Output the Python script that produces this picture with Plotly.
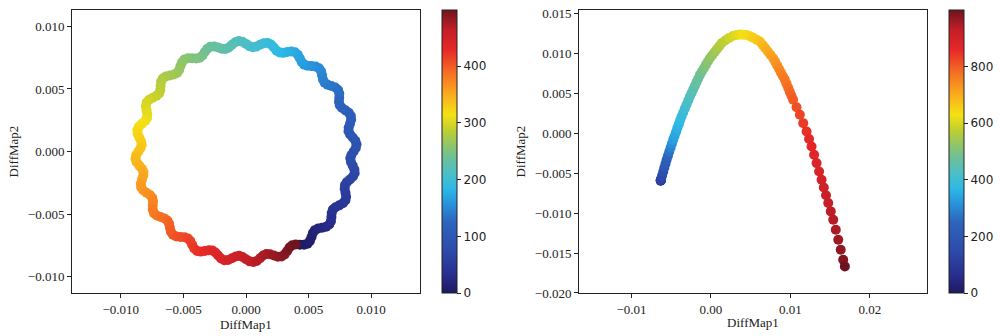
import plotly.graph_objects as go

# ---------------- Left panel: wavy ring (coloured by sample index, 0..499) ----------------
ring_x = [
    0.004300, 0.004635, 0.004917, 0.005112, 0.005235, 0.005343, 0.005506, 0.005758,
    0.006081, 0.006406, 0.006654, 0.006785, 0.006823, 0.006847, 0.006943, 0.007153,
    0.007448, 0.007741, 0.007937, 0.007995, 0.007945, 0.007883, 0.007907, 0.008060,
    0.008307, 0.008548, 0.008680, 0.008660, 0.008526, 0.008382, 0.008332, 0.008419,
    0.008600, 0.008772, 0.008831, 0.008735, 0.008526, 0.008310, 0.008190, 0.008203,
    0.008307, 0.008399, 0.008380, 0.008214, 0.007945, 0.007672, 0.007489, 0.007428,
    0.007448, 0.007453, 0.007359, 0.007134, 0.006823, 0.006511, 0.006278, 0.006148,
    0.006081, 0.006000, 0.005835, 0.005568, 0.005235, 0.004906, 0.004639, 0.004448,
    0.004300, 0.004137, 0.003914, 0.003622, 0.003291, 0.002967, 0.002684, 0.002445,
    0.002226, 0.001993, 0.001727, 0.001430, 0.001123, 0.000826, 0.000546, 0.000276,
    0.0, -0.000287, -0.000579, -0.000860, -0.001123, -0.001372, -0.001629, -0.001913,
    -0.002226, -0.002548, -0.002845, -0.003092, -0.003291, -0.003476, -0.003693, -0.003971,
    -0.004300, -0.004635, -0.004917, -0.005112, -0.005235, -0.005343, -0.005506, -0.005758,
    -0.006081, -0.006406, -0.006654, -0.006785, -0.006823, -0.006847, -0.006943, -0.007153,
    -0.007448, -0.007741, -0.007937, -0.007995, -0.007945, -0.007883, -0.007907, -0.008060,
    -0.008307, -0.008548, -0.008680, -0.008660, -0.008526, -0.008382, -0.008332, -0.008419,
    -0.008600, -0.008772, -0.008831, -0.008735, -0.008526, -0.008310, -0.008190, -0.008203,
    -0.008307, -0.008399, -0.008380, -0.008214, -0.007945, -0.007672, -0.007489, -0.007428,
    -0.007448, -0.007453, -0.007359, -0.007134, -0.006823, -0.006511, -0.006278, -0.006148,
    -0.006081, -0.006000, -0.005835, -0.005568, -0.005235, -0.004906, -0.004639, -0.004448,
    -0.004300, -0.004137, -0.003914, -0.003622, -0.003291, -0.002967, -0.002684, -0.002445,
    -0.002226, -0.001993, -0.001727, -0.001430, -0.001123, -0.000826, -0.000546, -0.000276,
    0.0, 0.000287, 0.000579, 0.000860, 0.001123, 0.001372, 0.001629, 0.001913,
    0.002226, 0.002548, 0.002845, 0.003092, 0.003291, 0.003476, 0.003693, 0.003971]
ring_y = [
    -0.007448, -0.007453, -0.007359, -0.007134, -0.006823, -0.006511, -0.006278, -0.006148,
    -0.006081, -0.006000, -0.005835, -0.005568, -0.005235, -0.004906, -0.004639, -0.004448,
    -0.004300, -0.004137, -0.003914, -0.003622, -0.003291, -0.002967, -0.002684, -0.002445,
    -0.002226, -0.001993, -0.001727, -0.001430, -0.001123, -0.000826, -0.000546, -0.000276,
    0.0, 0.000287, 0.000579, 0.000860, 0.001123, 0.001372, 0.001629, 0.001913,
    0.002226, 0.002548, 0.002845, 0.003092, 0.003291, 0.003476, 0.003693, 0.003971,
    0.004300, 0.004635, 0.004917, 0.005112, 0.005235, 0.005343, 0.005506, 0.005758,
    0.006081, 0.006406, 0.006654, 0.006785, 0.006823, 0.006847, 0.006943, 0.007153,
    0.007448, 0.007741, 0.007937, 0.007995, 0.007945, 0.007883, 0.007907, 0.008060,
    0.008307, 0.008548, 0.008680, 0.008660, 0.008526, 0.008382, 0.008332, 0.008419,
    0.008600, 0.008772, 0.008831, 0.008735, 0.008526, 0.008310, 0.008190, 0.008203,
    0.008307, 0.008399, 0.008380, 0.008214, 0.007945, 0.007672, 0.007489, 0.007428,
    0.007448, 0.007453, 0.007359, 0.007134, 0.006823, 0.006511, 0.006278, 0.006148,
    0.006081, 0.006000, 0.005835, 0.005568, 0.005235, 0.004906, 0.004639, 0.004448,
    0.004300, 0.004137, 0.003914, 0.003622, 0.003291, 0.002967, 0.002684, 0.002445,
    0.002226, 0.001993, 0.001727, 0.001430, 0.001123, 0.000826, 0.000546, 0.000276,
    0.0, -0.000287, -0.000579, -0.000860, -0.001123, -0.001372, -0.001629, -0.001913,
    -0.002226, -0.002548, -0.002845, -0.003092, -0.003291, -0.003476, -0.003693, -0.003971,
    -0.004300, -0.004635, -0.004917, -0.005112, -0.005235, -0.005343, -0.005506, -0.005758,
    -0.006081, -0.006406, -0.006654, -0.006785, -0.006823, -0.006847, -0.006943, -0.007153,
    -0.007448, -0.007741, -0.007937, -0.007995, -0.007945, -0.007883, -0.007907, -0.008060,
    -0.008307, -0.008548, -0.008680, -0.008660, -0.008526, -0.008382, -0.008332, -0.008419,
    -0.008600, -0.008772, -0.008831, -0.008735, -0.008526, -0.008310, -0.008190, -0.008203,
    -0.008307, -0.008399, -0.008380, -0.008214, -0.007945, -0.007672, -0.007489, -0.007428]
ring_t = [
    0, 3, 5, 8, 10, 13, 16, 18, 21, 24, 26, 29, 31, 34, 37, 39,
    42, 44, 47, 50, 52, 55, 57, 60, 63, 65, 68, 71, 73, 76, 78, 81,
    84, 86, 89, 91, 94, 97, 99, 102, 105, 107, 110, 112, 115, 118, 120, 123,
    125, 128, 131, 133, 136, 138, 141, 144, 146, 149, 152, 154, 157, 159, 162, 165,
    167, 170, 172, 175, 178, 180, 183, 185, 188, 191, 193, 196, 199, 201, 204, 206,
    209, 212, 214, 217, 219, 222, 225, 227, 230, 233, 235, 238, 240, 243, 246, 248,
    251, 253, 256, 259, 261, 264, 266, 269, 272, 274, 277, 280, 282, 285, 287, 290,
    293, 295, 298, 300, 303, 306, 308, 311, 314, 316, 319, 321, 324, 327, 329, 332,
    334, 337, 340, 342, 345, 347, 350, 353, 355, 358, 361, 363, 366, 368, 371, 374,
    376, 379, 381, 384, 387, 389, 392, 395, 397, 400, 402, 405, 408, 410, 413, 415,
    418, 421, 423, 426, 428, 431, 434, 436, 439, 442, 444, 447, 449, 452, 455, 457,
    460, 462, 465, 468, 470, 473, 476, 478, 481, 483, 486, 489, 491, 494, 496, 499]

# ---------------- Right panel: arch (coloured by sample index, 0..999) ----------------
arc_x = [-0.00632, -0.00631, -0.00630, -0.00630,
         -0.00629, -0.00615, -0.00600, -0.00586, -0.00571,
         -0.00557, -0.00540, -0.00524, -0.00507, -0.00491,
         -0.00474, -0.00457, -0.00439, -0.00422, -0.00404, -0.00387,
         -0.00369, -0.00348, -0.00327, -0.00306, -0.00285,
         -0.00264, -0.00243, -0.00222, -0.00201, -0.00180, -0.00159,
         -0.00138, -0.00113, -0.00088, -0.00063, -0.00038,
         -0.00013, 0.00016, 0.00046, 0.00075, 0.00105,
         0.00134, 0.00181, 0.00229, 0.00276,
         0.00323, 0.00365, 0.00407,
         0.00449, 0.00491, 0.00532, 0.00574,
         0.00616, 0.00650, 0.00683, 0.00717, 0.00750,
         0.00784, 0.00809, 0.00833, 0.00858, 0.00882, 0.00907,
         0.00931, 0.00952, 0.00973, 0.00993, 0.01014,
         0.01035, 0.01078,
         0.01120, 0.01162,
         0.01204, 0.01236,
         0.01267, 0.01299,
         0.01330, 0.01362,
         0.01393, 0.01421, 0.01449,
         0.01477, 0.01509,
         0.01540, 0.01572,
         0.01603, 0.01634,
         0.01665, 0.01686]
arc_y = [-0.00594, -0.00591, -0.00588, -0.00586,
         -0.00584, -0.00534, -0.00483, -0.00433, -0.00383,
         -0.00333, -0.00283, -0.00233, -0.00183, -0.00133,
         -0.00083, -0.00035, 0.00014, 0.00063, 0.00111, 0.00160,
         0.00208, 0.00258, 0.00308, 0.00358, 0.00408,
         0.00458, 0.00503, 0.00548, 0.00594, 0.00639, 0.00684,
         0.00729, 0.00771, 0.00813, 0.00854, 0.00896,
         0.00938, 0.00975, 0.01013, 0.01050, 0.01088,
         0.01125, 0.01160, 0.01192, 0.01215,
         0.01229, 0.01233, 0.01232,
         0.01229, 0.01214, 0.01194, 0.01170,
         0.01146, 0.01107, 0.01064, 0.01021, 0.00980,
         0.00938, 0.00893, 0.00848, 0.00802, 0.00757, 0.00712,
         0.00667, 0.00617, 0.00567, 0.00517, 0.00467,
         0.00417, 0.00324,
         0.00230, 0.00125,
         0.00020, -0.00074,
         -0.00167, -0.00271,
         -0.00375, -0.00480,
         -0.00584, -0.00681, -0.00778,
         -0.00875, -0.00979,
         -0.01083, -0.01208,
         -0.01333, -0.01458,
         -0.01583, -0.01667]
arc_t = [0, 35, 70, 100,
         130, 150, 170, 190, 210,
         230, 250, 270, 290, 310,
         330, 339, 348, 358, 367, 376,
         385, 394, 403, 412, 421,
         430, 438, 447, 455, 463, 472,
         480, 488, 496, 504, 512,
         520, 529, 538, 547, 556,
         565, 576, 588, 599,
         610, 618, 627,
         635, 644, 653, 661,
         670, 680, 690, 700, 710,
         720, 728, 735, 742, 750, 758,
         765, 772, 779, 786, 793,
         800, 813,
         825, 838,
         850, 858,
         865, 872,
         880, 890,
         900, 908, 917,
         925, 933,
         940, 950,
         960, 972,
         985, 999]

ring_ticks = [0, 100, 200, 300, 400]
arc_ticks = [0, 200, 400, 600, 800]
left_xticks = [-0.010, -0.005, 0.000, 0.005, 0.010]
left_yticks = [-0.010, -0.005, 0.000, 0.005, 0.010]
right_xticks = [-0.01, 0.00, 0.01, 0.02]
right_yticks = [-0.020, -0.015, -0.010, -0.005, 0.000, 0.005, 0.010, 0.015]

jet_like = [
    [0.00, "rgb(30,25,95)"],
    [0.06, "rgb(40,45,140)"],
    [0.15, "rgb(45,75,170)"],
    [0.25, "rgb(45,100,190)"],
    [0.32, "rgb(40,150,220)"],
    [0.37, "rgb(45,185,230)"],
    [0.42, "rgb(75,190,200)"],
    [0.48, "rgb(110,192,150)"],
    [0.53, "rgb(150,198,95)"],
    [0.58, "rgb(195,208,45)"],
    [0.63, "rgb(245,225,20)"],
    [0.71, "rgb(250,165,30)"],
    [0.78, "rgb(245,110,35)"],
    [0.86, "rgb(230,40,40)"],
    [0.93, "rgb(195,30,40)"],
    [1.00, "rgb(110,20,30)"],
]

serif = dict(family="Liberation Serif", size=13, color="#222")
sans = dict(family="DejaVu Sans", size=12, color="#222")


def cbar(xpos, ticks):
    return dict(x=xpos, xanchor="left", xpad=0, y=0.549, yanchor="middle", ypad=0,
                len=0.842, lenmode="fraction", thickness=15, thicknessmode="pixels",
                outlinecolor="#222", outlinewidth=1, tickvals=ticks, ticks="outside",
                ticklen=4, tickcolor="#222", tickfont=sans)


fig = go.Figure()
fig.add_trace(go.Scatter(
    x=ring_x, y=ring_y, mode="markers", xaxis="x", yaxis="y", showlegend=False,
    hoverinfo="skip",
    marker=dict(color=ring_t, colorscale=jet_like, cmin=0, cmax=499, size=10,
                line=dict(width=0), colorbar=cbar(0.442, ring_ticks))))
fig.add_trace(go.Scatter(
    x=arc_x, y=arc_y, mode="markers", xaxis="x2", yaxis="y2", showlegend=False,
    hoverinfo="skip",
    marker=dict(color=arc_t, colorscale=jet_like, cmin=0, cmax=999, size=10,
                line=dict(width=0), colorbar=cbar(0.949, arc_ticks))))

axis_common = dict(showline=True, mirror=True, linecolor="#222", linewidth=1,
                   ticks="outside", ticklen=4, tickcolor="#222", showgrid=False,
                   zeroline=False, tickfont=serif, automargin=False)

fig.update_layout(
    width=1000, height=336, margin=dict(l=0, r=0, t=0, b=0),
    paper_bgcolor="white", plot_bgcolor="white",
    xaxis=dict(domain=[0.072, 0.420], range=[-0.0139, 0.0139], tickvals=left_xticks,
               tickformat=".3f", anchor="y",
               title=dict(text="DiffMap1", font=serif, standoff=2), **axis_common),
    yaxis=dict(domain=[0.128, 0.970], range=[-0.0113, 0.0113], tickvals=left_yticks,
               tickformat=".3f", anchor="x",
               title=dict(text="DiffMap2", font=serif, standoff=6), **axis_common),
    xaxis2=dict(domain=[0.579, 0.927], range=[-0.0166, 0.0272], tickvals=right_xticks,
                tickformat=".2f", anchor="y2",
                title=dict(text="DiffMap1", font=serif, standoff=2), **axis_common),
    yaxis2=dict(domain=[0.128, 0.970], range=[-0.0200, 0.0154], tickvals=right_yticks,
                tickformat=".3f", anchor="x2",
                title=dict(text="DiffMap2", font=serif, standoff=6), **axis_common),
)

fig.write_html("out.html", config={"displayModeBar": False},
               post_script="document.body.style.margin='0';document.body.style.padding='0';")
